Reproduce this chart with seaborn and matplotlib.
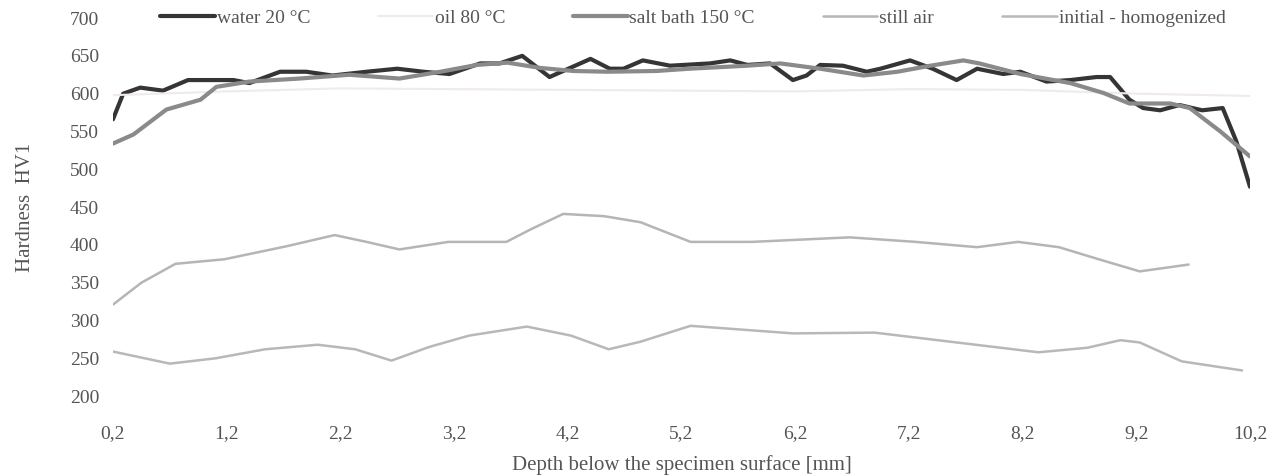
import numpy as np
import pandas as pd
import matplotlib
matplotlib.use('Agg')
import matplotlib.pyplot as plt
import seaborn as sb

# hardness profiles
water_x = [0.2, 0.29, 0.44, 0.64, 0.86, 1.26, 1.4, 1.67, 1.9, 2.13, 2.43, 2.7, 2.93, 3.16, 3.43, 3.6, 3.8,
           4.04, 4.4, 4.57, 4.69, 4.86, 5.1, 5.45, 5.63, 5.78, 5.98, 6.18, 6.3, 6.42, 6.62, 6.83, 6.95,
           7.21, 7.41, 7.62, 7.8, 8.03, 8.18, 8.41, 8.62, 8.85, 8.97, 9.14, 9.26, 9.41, 9.58, 9.78, 9.96,
           10.08, 10.2]
water_y = [566, 600, 608, 604, 618, 618, 614, 629, 629, 624, 629, 633, 629, 626, 640, 640, 650,
           622, 646, 633, 633, 644, 637, 640, 644, 638, 640, 618, 624, 638, 637, 629, 633,
           644, 633, 618, 633, 626, 629, 616, 618, 622, 622, 592, 581, 578, 585, 578, 581,
           537, 477]

oil_x = [0.2, 1.2, 2.2, 3.2, 4.2, 5.2, 6.2, 7.2, 8.2, 9.2, 10.2]
oil_y = [598, 603, 607, 606, 605, 604, 603, 606, 605, 600, 597]

salt_x = [0.2, 0.38, 0.67, 0.97, 1.11, 1.4, 1.84, 2.28, 2.72, 3.08, 3.4, 3.67, 3.96, 4.25, 4.55, 4.98,
          5.27, 5.78, 6.07, 6.42, 6.8, 7.1, 7.39, 7.68, 7.82, 8.18, 8.62, 8.91, 9.14, 9.5, 9.67,
          9.94, 10.2]
salt_y = [534, 546, 579, 592, 609, 616, 620, 625, 620, 629, 638, 641, 634, 630, 629, 630,
          633, 637, 640, 633, 624, 629, 637, 644, 640, 626, 614, 601, 587, 587, 581,
          550, 517]

air_x = [0.2, 0.45, 0.75, 1.18, 1.72, 2.15, 2.43, 2.72, 3.15, 3.66, 3.88, 4.16, 4.52, 4.84, 5.28,
         5.82, 6.68, 7.26, 7.8, 8.16, 8.52, 8.87, 9.23, 9.66]
air_y = [321, 350, 375, 381, 398, 413, 404, 394, 404, 404, 421, 441, 438, 430, 404,
         404, 410, 404, 397, 404, 397, 381, 365, 374]

init_x = [0.2, 0.7, 1.1, 1.54, 2.0, 2.33, 2.65, 2.98, 3.33, 3.84, 4.23, 4.56, 4.84, 5.28, 6.18,
          6.9, 7.62, 8.34, 8.77, 9.06, 9.23, 9.6, 10.13]
init_y = [259, 243, 250, 262, 268, 262, 247, 265, 280, 292, 280, 262, 272, 293, 283,
          284, 271, 258, 264, 274, 271, 246, 234]

x_ticks = [0.2, 1.2, 2.2, 3.2, 4.2, 5.2, 6.2, 7.2, 8.2, 9.2, 10.2]
x_labels = ['0,2', '1,2', '2,2', '3,2', '4,2', '5,2', '6,2', '7,2', '8,2', '9,2', '10,2']

sb.set_style('white')
plt.rcParams['font.family'] = ['Liberation Serif', 'DejaVu Serif']
txt = '#555555'

fig = plt.figure(figsize=(12.69, 4.75), dpi=100)
ax = fig.add_axes([0.089, 0.166, 0.896, 0.796])

sb.lineplot(x=water_x, y=water_y, ax=ax, color='#353535', lw=3, label='water 20 °C')
sb.lineplot(x=oil_x, y=oil_y, ax=ax, color='#f1eaea', lw=1.5, label='oil 80 °C')
sb.lineplot(x=salt_x, y=salt_y, ax=ax, color='#8a8a8a', lw=3, label='salt bath 150 °C')
sb.lineplot(x=air_x, y=air_y, ax=ax, color='#b5b5b5', lw=1.8, label='still air')
sb.lineplot(x=init_x, y=init_y, ax=ax, color='#b8b8b8', lw=1.8, label='initial - homogenized')

ax.set_xlim(0.2, 10.2)
ax.set_ylim(200, 700)
ax.set_yticks(range(200, 701, 50))
ax.set_xticks(x_ticks)
ax.set_xticklabels(x_labels)
ax.tick_params(axis='both', length=0, labelsize=14, labelcolor=txt)
ax.tick_params(axis='y', pad=10)
ax.tick_params(axis='x', pad=21)
for s in ax.spines.values():
    s.set_visible(False)

ax.set_xlabel('Depth below the specimen surface [mm]', fontsize=15, color=txt, labelpad=9)
ax.set_ylabel('Hardness  HV1', fontsize=15, color=txt, labelpad=25)

ax.legend(ncol=5, loc='center', bbox_to_anchor=(0.51, 1.0), frameon=False, fontsize=14,
          handlelength=2.8, handletextpad=0.1, columnspacing=3.5, labelcolor=txt)

plt.savefig('out.png', dpi=100)
